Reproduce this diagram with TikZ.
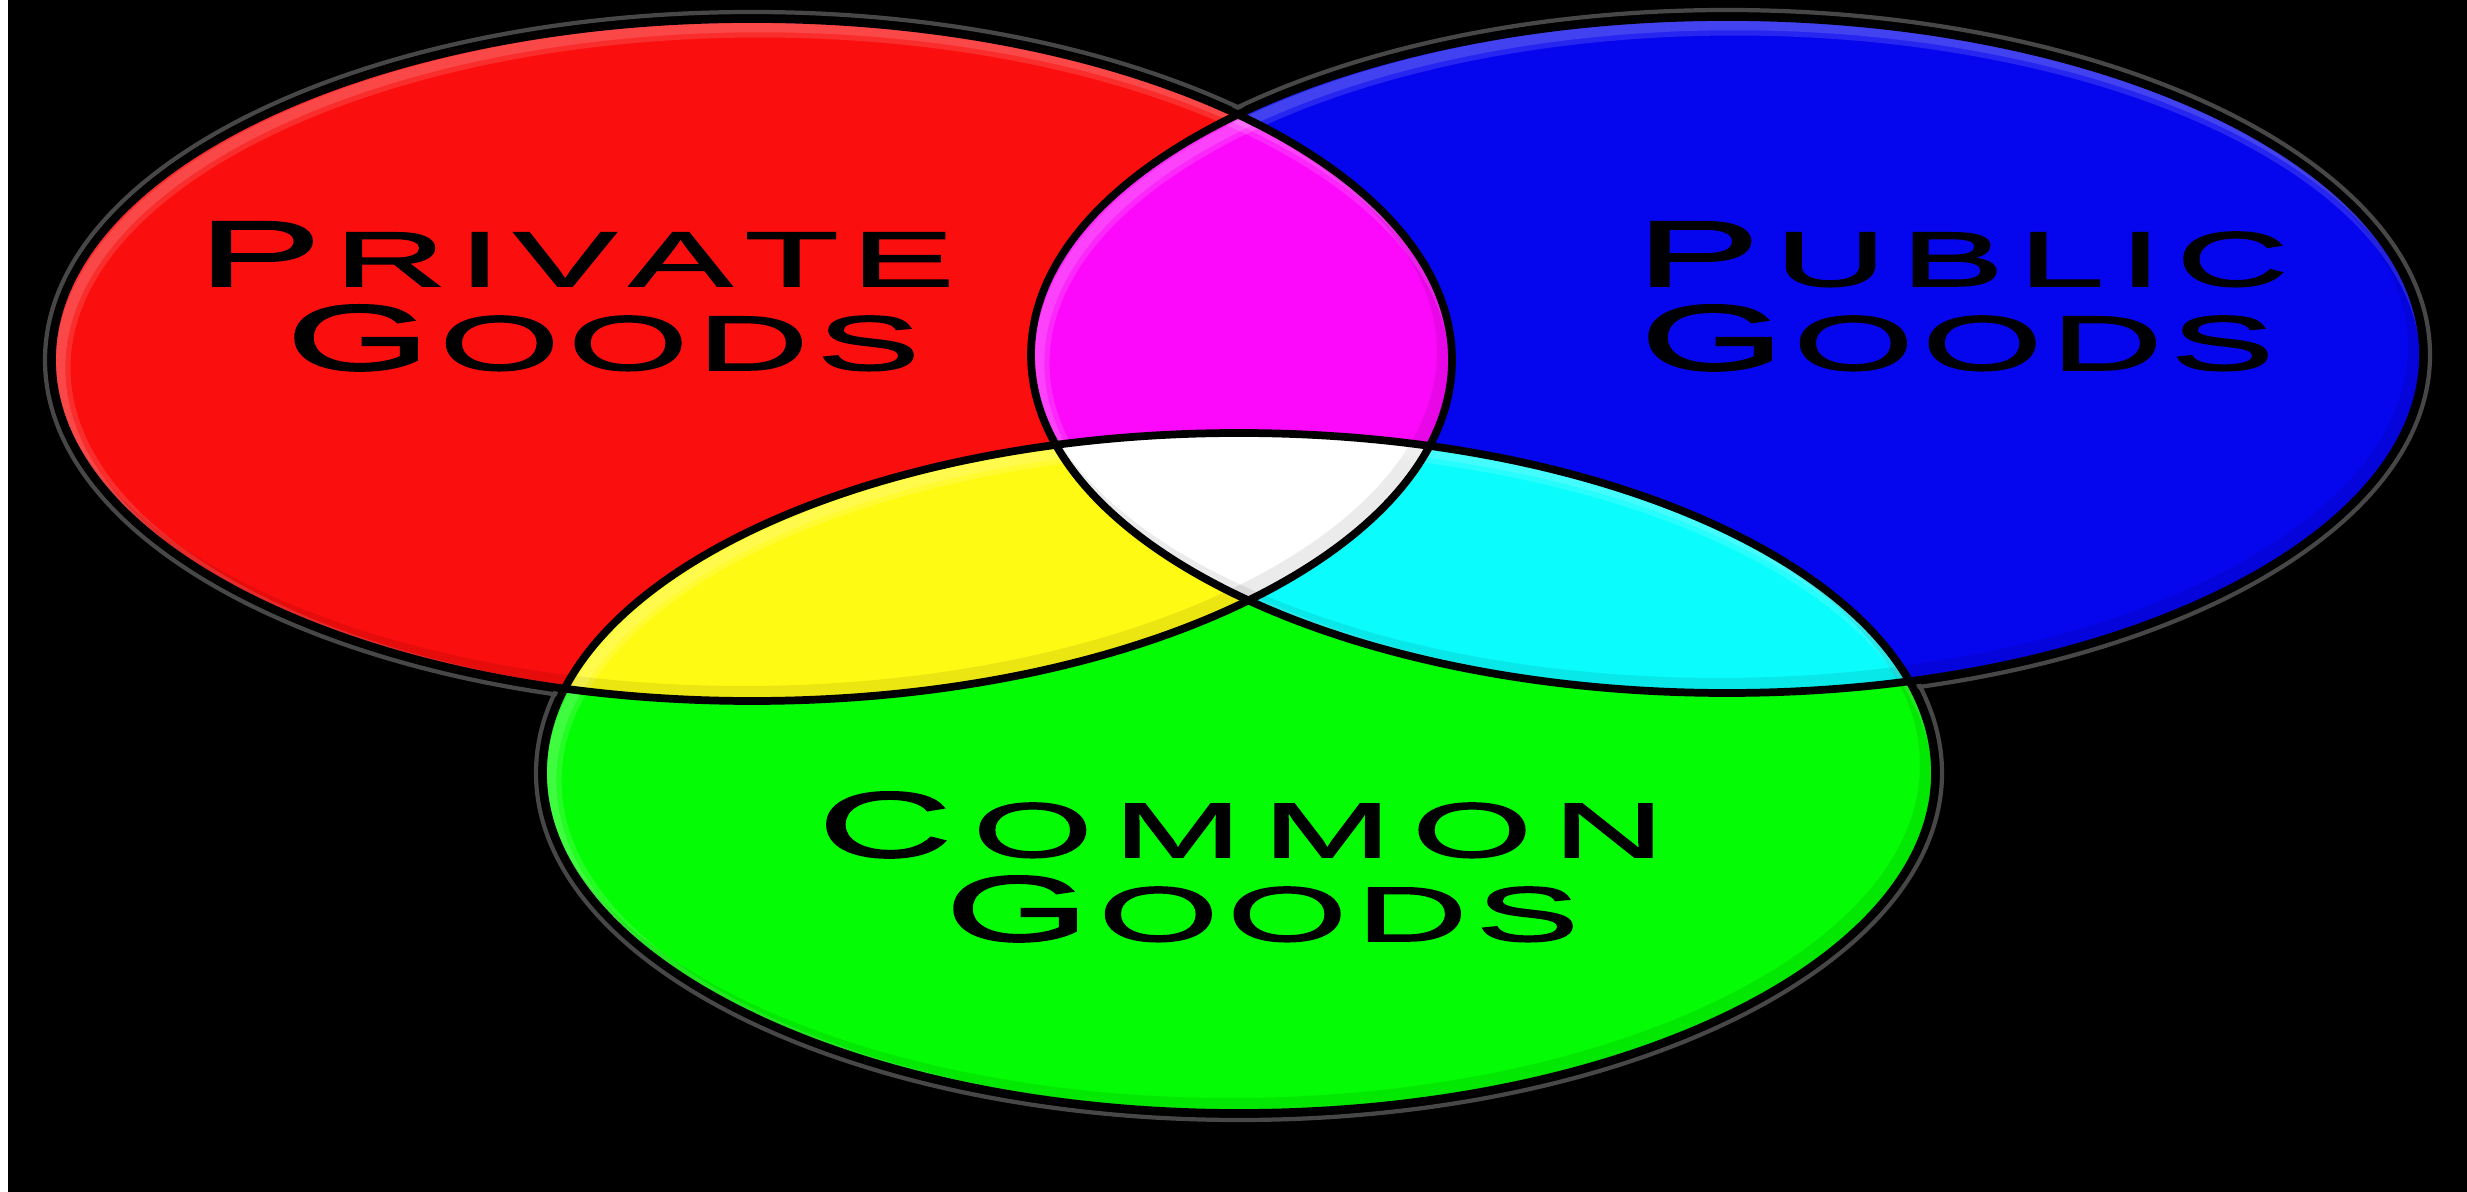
\documentclass[tikz,border=0pt]{standalone}
\usepackage{fontspec}
\newfontfamily\goodsfont[FakeStretch=2.0, FakeBold=2]{Liberation Sans}
\usetikzlibrary{positioning}
\definecolor{vnRed}{RGB}{250,14,14}
\definecolor{vnBlue}{RGB}{6,6,238}
\definecolor{vnGreen}{RGB}{4,252,4}
\definecolor{vnMagenta}{RGB}{252,8,250}
\definecolor{vnYellow}{RGB}{255,250,20}
\definecolor{vnCyan}{RGB}{10,252,252}
% wide small-caps words
\def\spreadletters#1{\ifx#1\relax\else#1\kern\capgap\expandafter\spreadletters\fi}
\newcommand{\capword}[3][3.5pt]{\def\capgap{#1}{\fontsize{26.5}{28}\selectfont #2\kern\capgap}{\fontsize{22}{28}\selectfont\spreadletters#3\relax\unkern}}
\tikzset{
    % the three sets
    redzone/.style={insert path={(752,360) ellipse [x radius=700, y radius=341]}},
    bluezone/.style={insert path={(1727,355) ellipse [x radius=696, y radius=338]}},
    greenzone/.style={insert path={(1239,773) ellipse [x radius=696, y radius=340]}},
    % looks
    ring/.style={draw=black!72, line width=1.2pt},
    rimline/.style={draw=black, line width=2.2pt},
    glow/.style={draw=white, line width=#1, opacity=0.13},
    dusk/.style={draw=black, line width=4pt, opacity=0.08},
    goods/.style={font=\goodsfont, text=black, inner sep=0pt, anchor=base}
}
\begin{document}
\begin{tikzpicture}[x=0.01cm, y=-0.01cm]
\useasboundingbox (0,0) rectangle (2467,1192);
\fill[white] (0,0) rectangle (8,1192);
\fill[black] (8,0) rectangle (2467,1192);

% outer grey rings
\draw[ring] (752,360) ellipse [x radius=707, y radius=348];
\draw[ring] (1727,355) ellipse [x radius=703, y radius=345];
\draw[ring] (1239,773) ellipse [x radius=703, y radius=347];

% sets
\fill[vnRed, redzone];
\fill[vnBlue, bluezone];
\fill[vnGreen, greenzone];

% overlaps
\begin{scope}
\clip[redzone];
\fill[vnMagenta, bluezone];
\fill[vnYellow, greenzone];
\end{scope}
\begin{scope}
\clip[bluezone];
\fill[vnCyan, greenzone];
\end{scope}
\begin{scope}
\clip[redzone];
\clip[bluezone];
\fill[white, greenzone];
\end{scope}

% gloss on the rims
\foreach \zone in {redzone, bluezone, greenzone} {
    \begin{scope}
    \clip[\zone];
    \draw[glow=6pt, shift={(8,8)}, \zone];
    \draw[glow=3pt, shift={(8,8)}, \zone];
    \draw[dusk, shift={(-8,-8)}, \zone];
    \end{scope}
}

% outlines
\draw[rimline, redzone];
\draw[rimline, bluezone];
\draw[rimline, greenzone];

% labels
\node[goods] (private) at (576,286) {\capword{P}{RIVATE}};
\node[goods] (privgoods) at (603,370) {\capword[2.4pt]{G}{OODS}};
\node[goods] (public) at (1962,286) {\capword[4.1pt]{P}{UBLIC}};
\node[goods] (pubgoods) at (1957,370) {\capword[2.4pt]{G}{OODS}};
\node[goods] (common) at (1241,857) {\capword[5.8pt]{C}{OMMON}};
\node[goods] (comgoods) at (1262,941) {\capword[2.4pt]{G}{OODS}};
\end{tikzpicture}
\end{document}
